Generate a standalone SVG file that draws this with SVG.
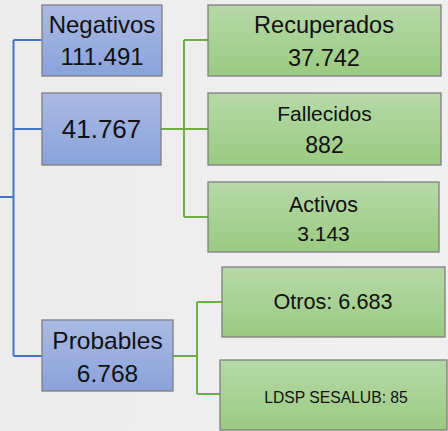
<svg xmlns="http://www.w3.org/2000/svg" width="448" height="431" viewBox="0 0 448 431">
  <defs>
    <linearGradient id="gBlue" x1="0" y1="0" x2="0" y2="1">
      <stop offset="0" stop-color="#AABAE4"/>
      <stop offset="1" stop-color="#8AA2DA"/>
    </linearGradient>
    <linearGradient id="gGreen" x1="0" y1="0" x2="0" y2="1">
      <stop offset="0" stop-color="#B6D9A8"/>
      <stop offset="1" stop-color="#9BCA81"/>
    </linearGradient>
    <linearGradient id="gBg" x1="0" y1="0" x2="1" y2="0">
      <stop offset="0" stop-color="#ECECEC"/>
      <stop offset="1" stop-color="#F0F0F0"/>
    </linearGradient>
  </defs>
  <style>
    .blue { fill: url(#gBlue); stroke: #7F7F7F; stroke-width: 1.3; }
    .green { fill: url(#gGreen); stroke: #7F7F7F; stroke-width: 1.3; }
    text { font-family: "Liberation Sans", Arial, sans-serif; fill: #111111; text-anchor: middle; }
    .cb { fill: none; stroke: #4472C4; stroke-width: 2; }
    .cg { fill: none; stroke: #70AD47; stroke-width: 2; }
  </style>
  <rect x="0" y="0" width="448" height="431" fill="url(#gBg)"/>

  <g id="connectors">
    <path class="cb" d="M0,197 H13.5 M13.5,40 V356 M13.5,40 H42 M13.5,129 H42 M13.5,356 H42"/>
    <path class="cg" d="M161,129 H184 M184,40 V217 M184,40 H208 M184,129 H208 M184,217 H208"/>
    <path class="cg" d="M173,356 H197 M197,302 V394 M197,302 H222 M197,394 H220"/>
  </g>

  <g id="negativos">
    <rect class="blue" x="42" y="5" width="120" height="71"/>
    <text x="102" y="32.5" font-size="24">Negativos</text>
    <text x="102" y="65" font-size="24">111.491</text>
  </g>
  <g id="confirmados">
    <rect class="blue" x="42" y="93" width="119" height="72"/>
    <text x="101.5" y="138" font-size="26">41.767</text>
  </g>
  <g id="probables">
    <rect class="blue" x="42" y="320" width="131" height="71"/>
    <text x="107.5" y="349" font-size="24.5">Probables</text>
    <text x="107.5" y="382" font-size="24.5">6.768</text>
  </g>
  <g id="recuperados">
    <rect class="green" x="208" y="5" width="233" height="71"/>
    <text x="324" y="33" font-size="23.5">Recuperados</text>
    <text x="324" y="66" font-size="23.5">37.742</text>
  </g>
  <g id="fallecidos">
    <rect class="green" x="208" y="93" width="233" height="72"/>
    <text x="324.5" y="120.7" font-size="21">Fallecidos</text>
    <text x="324.5" y="152.7" font-size="23">882</text>
  </g>
  <g id="activos">
    <rect class="green" x="208" y="182" width="231" height="70"/>
    <text x="323.5" y="211.7" font-size="21.4">Activos</text>
    <text x="323.5" y="241" font-size="21">3.143</text>
  </g>
  <g id="otros">
    <rect class="green" x="222" y="267" width="223" height="70"/>
    <text x="333" y="309.3" font-size="21.6">Otros: 6.683</text>
  </g>
  <g id="ldsp">
    <rect class="green" x="220" y="360" width="227" height="70"/>
    <text x="336" y="402.7" font-size="15.7">LDSP SESALUB: 85</text>
  </g>
</svg>
